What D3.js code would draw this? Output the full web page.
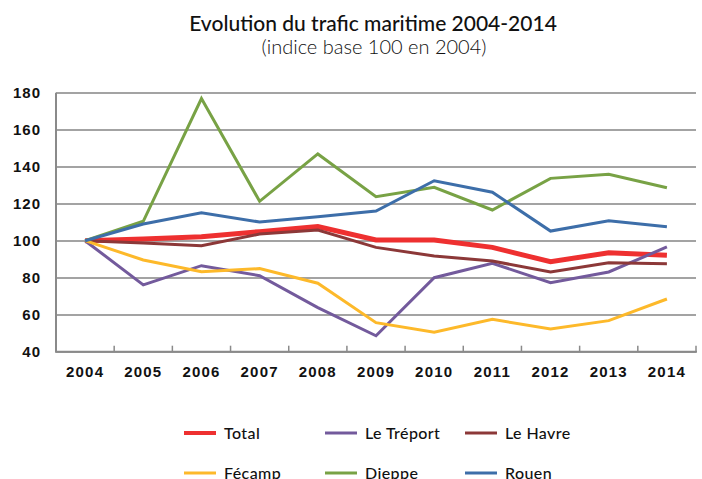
<!DOCTYPE html>
<html>
<head>
<meta charset="utf-8">
<script src="https://cdn.jsdelivr.net/npm/d3@7"></script>
<style>
	body { margin: 0; background: #fff; }
	svg { font-family: Lato, "Open Sans", sans-serif; }
	.axis path, .axis line { shape-rendering: crispEdges; }
</style>
</head>
<body>
<svg id="chart" width="702" height="479"></svg>
<script>
"use strict";

// Data (indice base 100 en 2004)
var years = ["2004", "2005", "2006", "2007", "2008", "2009", "2010", "2011", "2012", "2013", "2014"];
var yTicks = [40, 60, 80, 100, 120, 140, 160, 180];

var total     = [100, 100.9, 102.2, 104.9, 107.6, 100.4, 100.4, 96.4, 88.6, 93.5, 92.1];
var leTreport = [100, 76.1, 86.5, 81.1, 63.8, 48.6, 80.0, 87.8, 77.3, 83.1, 96.6];
var leHavre   = [100, 98.8, 97.3, 103.6, 105.8, 96.4, 91.7, 89.0, 83.1, 88.1, 87.6];
var fecamp    = [100, 89.6, 83.2, 84.9, 77.0, 55.7, 50.5, 57.5, 52.3, 56.8, 68.5];
var dieppe    = [100, 110.5, 176.8, 121.3, 146.9, 123.8, 128.9, 116.6, 133.7, 135.9, 128.6];
var rouen     = [100, 109.0, 115.1, 110.1, 113.0, 116.0, 132.4, 126.2, 105.2, 110.8, 107.6];

var seriesNames = ["Total", "Le Tréport", "Le Havre", "Fécamp", "Dieppe", "Rouen"];
var seriesValues = [total, leTreport, leHavre, fecamp, dieppe, rouen];
var seriesColors = ["#ee3030", "#735a9c", "#8c3838", "#fdb92a", "#78a245", "#3d6ea9"];
var seriesWidths = [5, 3, 3, 3, 3, 3];

var svg = d3.select("#chart");

var plot = { left: 56, right: 696, top: 92.7, bottom: 351.7 };

var x = d3.scaleBand().domain(years).range([plot.left, plot.right]);
var y = d3.scaleLinear().domain([40, 180]).range([plot.bottom, plot.top]);

/*
 * Titles
 */
svg.append("text")
	.attr("x", 373)
	.attr("y", 31)
	.attr("text-anchor", "middle")
	.style("font-size", "21px")
	.style("font-weight", 500)
	.style("fill", "#111")
	.text("Evolution du trafic maritime 2004-2014");

svg.append("text")
	.attr("x", 374)
	.attr("y", 54)
	.attr("text-anchor", "middle")
	.style("font-size", "20px")
	.style("font-weight", 300)
	.style("fill", "#111")
	.text("(indice base 100 en 2004)");

/*
 * Y axis with gridlines
 */
var yAxis = svg.append("g")
	.attr("class", "axis axis--y")
	.attr("transform", "translate(" + plot.left + ",0)")
	.call(d3.axisLeft(y).tickValues(yTicks).tickSize(-(plot.right - plot.left)).tickPadding(15));

yAxis.select(".domain").remove();
yAxis.selectAll(".tick line")
	.style("stroke", "#a3a3a3")
	.style("stroke-width", 1.5);
yAxis.selectAll(".tick text")
	.style("font-size", "15px")
	.style("font-weight", 700)
	.style("letter-spacing", "1px")
	.style("fill", "#111");

// left axis line
svg.append("line")
	.attr("x1", plot.left).attr("x2", plot.left)
	.attr("y1", y(180)).attr("y2", plot.bottom)
	.style("stroke", "#8a8a8a")
	.style("stroke-width", 2);

/*
 * X axis - labels at band centres, ticks at band edges
 */
var xAxis = svg.append("g")
	.attr("class", "axis axis--x")
	.attr("transform", "translate(0," + plot.bottom + ")")
	.call(d3.axisBottom(x).tickSize(0).tickPadding(15));

xAxis.select(".domain").remove();
xAxis.selectAll(".tick text")
	.style("font-size", "15px")
	.style("font-weight", 700)
	.style("letter-spacing", "1.2px")
	.style("fill", "#111");

svg.append("g")
	.selectAll("line")
	.data(years)
	.enter().append("line")
		.attr("x1", function(d) { return x(d) + x.bandwidth(); })
		.attr("x2", function(d) { return x(d) + x.bandwidth(); })
		.attr("y1", plot.bottom - 6)
		.attr("y2", plot.bottom)
		.style("stroke", "#8a8a8a")
		.style("stroke-width", 1.5);

svg.append("line")
	.attr("x1", plot.left - 1).attr("x2", plot.right + 1)
	.attr("y1", plot.bottom).attr("y2", plot.bottom)
	.style("stroke", "#8a8a8a")
	.style("stroke-width", 2);

/*
 * Lines
 */
var line = d3.line()
	.x(function(d, i) { return x(years[i]) + x.bandwidth() / 2; })
	.y(function(d) { return y(d); });

svg.append("g")
	.selectAll("path")
	.data(seriesValues)
	.enter().append("path")
		.attr("d", line)
		.style("fill", "none")
		.style("stroke", function(d, i) { return seriesColors[i]; })
		.style("stroke-width", function(d, i) { return seriesWidths[i]; })
		.style("stroke-linejoin", "miter");

/*
 * Legend: 3 columns, 2 rows (second row runs off the bottom, as in the source)
 */
var legendX = [184, 325, 465];
var legendY = [433, 473];

var legend = svg.append("g")
	.selectAll("g")
	.data(seriesNames)
	.enter().append("g")
		.attr("transform", function(d, i) {
			return "translate(" + legendX[i % 3] + "," + legendY[Math.floor(i / 3)] + ")";
		});

legend.append("line")
	.attr("x1", 0).attr("x2", 32)
	.attr("y1", 0).attr("y2", 0)
	.style("stroke", function(d, i) { return seriesColors[i]; })
	.style("stroke-width", function(d, i) { return i === 0 ? 4 : 3; });

legend.append("text")
	.attr("x", 40)
	.attr("y", 0)
	.attr("dy", "0.35em")
	.style("font-size", "16px")
	.style("font-weight", 500)
	.style("letter-spacing", "0.4px")
	.style("fill", "#111")
	.text(function(d) { return d; });
</script>
</body>
</html>
